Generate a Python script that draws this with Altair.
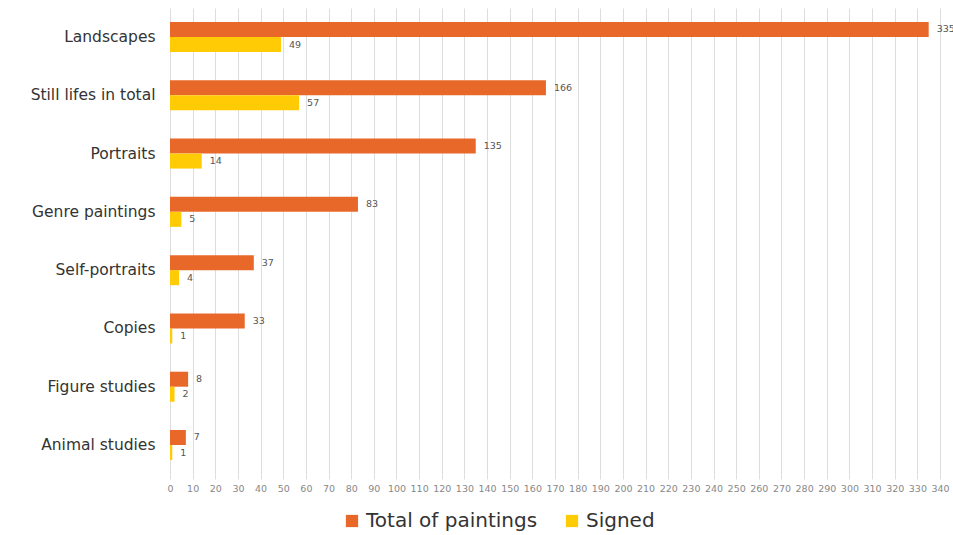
import altair as alt
import pandas as pd

categories = ["Landscapes", "Still lifes in total", "Portraits", "Genre paintings",
              "Self-portraits", "Copies", "Figure studies", "Animal studies"]
total_values = [335, 166, 135, 83, 37, 33, 8, 7]
signed_values = [49, 57, 14, 5, 4, 1, 2, 1]
series_names = ["Total of paintings", "Signed"]
series_colors = ["#E8682A", "#FFCB05"]
x_ticks = list(range(0, 341, 10))

rows = []
for c, t, s in zip(categories, total_values, signed_values):
    rows.append({"category": c, "series": series_names[0], "value": t})
    rows.append({"category": c, "series": series_names[1], "value": s})
df = pd.DataFrame(rows)

FONT = "DejaVu Sans"

y_scale = alt.Scale(paddingInner=0.485, paddingOuter=0.24)
x_scale = alt.Scale(domain=[0, 340], nice=False, zero=True)

y_axis = alt.Axis(labelFontSize=15.5, labelColor="#333333", labelFont=FONT,
                  labelPadding=15, ticks=False, domain=False, grid=False)
x_axis = alt.Axis(values=x_ticks, labelFontSize=9.5,
                  labelColor="#888888", labelFont=FONT, grid=True,
                  labelOverlap=False, labelFlush=False,
                  gridColor="#dddddd", gridWidth=1, domain=False,
                  tickColor="#dddddd", tickSize=5, labelPadding=4)

y_enc = alt.Y("category:N", sort=categories, title=None, scale=y_scale, axis=y_axis)
x_enc = alt.X("value:Q", title=None, scale=x_scale, axis=x_axis)
yoff = alt.YOffset("series:N", sort=series_names, scale=alt.Scale(paddingInner=0, paddingOuter=0))

bars = alt.Chart(df).mark_bar().encode(
    y=y_enc, x=x_enc, yOffset=yoff,
    color=alt.Color("series:N", sort=series_names,
                    scale=alt.Scale(domain=series_names, range=series_colors),
                    legend=alt.Legend(orient="none", legendX=172, legendY=503,
                                      direction="horizontal", title=None,
                                      symbolType="square", symbolSize=150,
                                      symbolStrokeWidth=0, labelLimit=400,
                                      labelFontSize=20, labelColor="#333333",
                                      labelFont=FONT, columnPadding=24,
                                      labelOffset=4)),
)

labels = alt.Chart(df).mark_text(align="left", baseline="middle", dx=8,
                                 fontSize=9.5, color="#555555", font=FONT).encode(
    y=y_enc, x=x_enc, yOffset=yoff,
    text=alt.Text("value:Q"),
)

chart = alt.layer(bars, labels).properties(
    width=770, height=466,
    autosize=alt.AutoSizeParams(type="none"),
    padding={"left": 170, "top": 8, "right": 13, "bottom": 61},
    background="white",
).configure_view(stroke=None)

chart.save("out.html", embed_options={"renderer": "svg", "actions": False})
